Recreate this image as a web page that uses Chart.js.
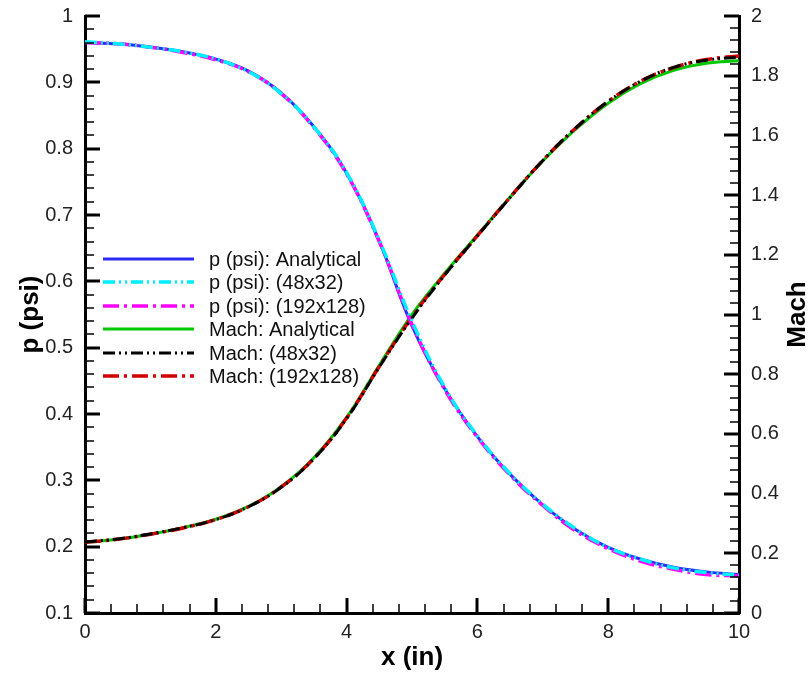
<!DOCTYPE html>
<html>
<head>
<meta charset="utf-8">
<script src="https://cdn.jsdelivr.net/npm/chart.js@4.4.1/dist/chart.umd.min.js"></script>
<style>
  html, body { margin: 0; padding: 0; background: #fff; }
  #wrap { position: relative; width: 812px; height: 673px; }
</style>
</head>
<body>
<div id="wrap"><canvas id="nozzleChart"></canvas></div>
<script>
// stations along the nozzle, x (in)
const xPositions = [0, 0.5, 1, 1.5, 2, 2.5, 3, 3.5, 4, 4.5, 5, 5.5, 6, 6.5, 7, 7.5, 8, 8.5, 9, 9.5, 10];

// static pressure, psi
const pAnalytical = [0.960, 0.958, 0.953, 0.946, 0.935, 0.917, 0.884, 0.833, 0.763, 0.660, 0.533, 0.438, 0.366, 0.309, 0.263, 0.226, 0.199, 0.181, 0.169, 0.162, 0.158];
const pCoarse     = [0.961, 0.958, 0.953, 0.946, 0.935, 0.916, 0.883, 0.833, 0.764, 0.662, 0.540, 0.440, 0.367, 0.310, 0.264, 0.227, 0.199, 0.181, 0.168, 0.161, 0.157];
const pFine       = [0.960, 0.958, 0.953, 0.945, 0.934, 0.916, 0.883, 0.832, 0.762, 0.660, 0.535, 0.437, 0.365, 0.308, 0.262, 0.224, 0.197, 0.178, 0.166, 0.158, 0.156];

// Mach number
const machAnalytical = [0.236, 0.247, 0.264, 0.286, 0.314, 0.357, 0.423, 0.520, 0.655, 0.830, 1.000, 1.138, 1.266, 1.393, 1.514, 1.620, 1.708, 1.774, 1.818, 1.842, 1.850];
const machCoarse     = [0.238, 0.248, 0.265, 0.286, 0.313, 0.356, 0.421, 0.517, 0.651, 0.824, 0.988, 1.132, 1.263, 1.392, 1.516, 1.624, 1.714, 1.782, 1.828, 1.852, 1.862];
const machFine       = [0.237, 0.247, 0.264, 0.285, 0.313, 0.356, 0.422, 0.518, 0.653, 0.826, 0.992, 1.134, 1.264, 1.393, 1.516, 1.624, 1.714, 1.782, 1.827, 1.854, 1.866];

const leftTicks = { min: 0.1, max: 1, step: 0.1, minor: 0.02 };
const rightTicks = { min: 0, max: 2, step: 0.2, minor: 0.04 };
const bottomTicks = { min: 0, max: 10, step: 2, minor: 0.4 };

const toPoints = ys => xPositions.map((x, i) => ({ x: x, y: ys[i] }));
const fmt = v => String(Math.round(v * 100) / 100);

const DASH_DOT_DOT = [12, 4, 2, 4, 2, 4];
const DASH_DOT = [16, 5, 3, 5];

Chart.defaults.font.family = '"Liberation Sans", Arial, sans-serif';

// fixed axis box sizes, no extra room for overhanging labels
const fixWidth = w => s => { s.width = w; s.paddingTop = 0; s.paddingBottom = 0; };
const fixHeight = h => s => { s.height = h; s.paddingLeft = 0; s.paddingRight = 0; };

// inward tick marks, the Mach title and the in-plot legend
const plotExtras = {
  id: 'plotExtras',
  afterDraw(chart) {
    const { ctx, chartArea: area, scales } = chart;
    ctx.save();
    ctx.strokeStyle = '#000';
    ctx.lineCap = 'butt';

    const sets = [
      { scale: scales.x, t: bottomTicks, side: 'bottom' },
      { scale: scales.y, t: leftTicks, side: 'left' },
      { scale: scales.y1, t: rightTicks, side: 'right' }
    ];
    sets.forEach(({ scale, t, side }) => {
      const n = Math.round((t.max - t.min) / t.minor);
      for (let i = 0; i <= n; i++) {
        const v = t.min + i * t.minor;
        const isMajor = Math.abs(v / t.step - Math.round(v / t.step)) < 1e-6;
        const len = isMajor ? 15 : 9;
        const p = Math.round(scale.getPixelForValue(v));
        ctx.lineWidth = isMajor ? 3 : 1.5;
        ctx.beginPath();
        if (side === 'bottom') {
          ctx.moveTo(p, area.bottom);
          ctx.lineTo(p, area.bottom - len);
        } else if (side === 'left') {
          ctx.moveTo(area.left, p);
          ctx.lineTo(area.left + len, p);
        } else {
          ctx.moveTo(area.right, p);
          ctx.lineTo(area.right - len, p);
        }
        ctx.stroke();
      }
    });

    // right axis title reads bottom to top, like the left one
    ctx.save();
    ctx.translate(798, (area.top + area.bottom) / 2);
    ctx.rotate(-Math.PI / 2);
    ctx.fillStyle = '#000';
    ctx.font = 'bold 26px "Liberation Sans", Arial, sans-serif';
    ctx.textAlign = 'center';
    ctx.textBaseline = 'middle';
    ctx.fillText('Mach', 0, 0);
    ctx.restore();

    // legend
    const lx = area.left + 18;
    const rowStep = 23.4;
    ctx.font = '20px "Liberation Sans", Arial, sans-serif';
    ctx.textAlign = 'left';
    ctx.textBaseline = 'middle';
    chart.data.datasets.forEach((ds, i) => {
      const y = Math.round(area.top + 243 + i * rowStep);
      ctx.setLineDash(ds.borderDash || []);
      ctx.strokeStyle = ds.borderColor;
      ctx.lineWidth = ds.borderWidth;
      ctx.beginPath();
      ctx.moveTo(lx, y);
      ctx.lineTo(lx + 91, y);
      ctx.stroke();
      ctx.setLineDash([]);
      ctx.fillStyle = '#111';
      ctx.fillText(ds.label, lx + 106, y + 1);
    });
    ctx.restore();
  }
};

const ctx = document.getElementById('nozzleChart').getContext('2d');

new Chart(ctx, {
  type: 'line',
  data: {
    datasets: [
      { label: 'p (psi): Analytical', data: toPoints(pAnalytical), yAxisID: 'y', borderColor: '#2b2bff', borderWidth: 3, order: 2 },
      { label: 'p (psi): (48x32)', data: toPoints(pCoarse), yAxisID: 'y', borderColor: '#00eeff', borderWidth: 3.5, borderDash: DASH_DOT_DOT, order: 1 },
      { label: 'p (psi): (192x128)', data: toPoints(pFine), yAxisID: 'y', borderColor: '#ff00ff', borderWidth: 3.5, borderDash: DASH_DOT, order: 1 },
      { label: 'Mach: Analytical', data: toPoints(machAnalytical), yAxisID: 'y1', borderColor: '#00c800', borderWidth: 3, order: 2 },
      { label: 'Mach: (48x32)', data: toPoints(machCoarse), yAxisID: 'y1', borderColor: '#000000', borderWidth: 3, borderDash: DASH_DOT_DOT, order: 1 },
      { label: 'Mach: (192x128)', data: toPoints(machFine), yAxisID: 'y1', borderColor: '#d00000', borderWidth: 3.5, borderDash: DASH_DOT, order: 1 }
    ]
  },
  options: {
    responsive: true,
    maintainAspectRatio: false,
    animation: false,
    layout: { padding: { left: 0, right: 0, top: 16, bottom: 0 } },
    elements: {
      point: { radius: 0 },
      line: { tension: 0.4, fill: false }
    },
    scales: {
      x: {
        type: 'linear',
        min: bottomTicks.min,
        max: bottomTicks.max,
        afterFit: fixHeight(60),
        border: { display: true, width: 3, color: '#000' },
        grid: { drawOnChartArea: false, drawTicks: false },
        ticks: { stepSize: bottomTicks.step, padding: 7, color: '#222', font: { size: 20 }, callback: fmt },
        title: { display: true, text: 'x (in)', color: '#000', font: { size: 26, weight: 'bold' }, padding: { top: 0, bottom: 0 } }
      },
      y: {
        position: 'left',
        min: leftTicks.min,
        max: leftTicks.max,
        afterFit: fixWidth(85),
        border: { display: true, width: 3, color: '#000' },
        grid: { drawOnChartArea: false, drawTicks: false },
        ticks: { stepSize: leftTicks.step, padding: 12, color: '#222', font: { size: 20 }, callback: fmt },
        title: { display: true, text: 'p (psi)', color: '#000', font: { size: 26, weight: 'bold' }, padding: { top: 15, bottom: 0 } }
      },
      y1: {
        position: 'right',
        min: rightTicks.min,
        max: rightTicks.max,
        afterFit: fixWidth(73),
        border: { display: true, width: 3, color: '#000' },
        grid: { drawOnChartArea: false, drawTicks: false },
        ticks: { stepSize: rightTicks.step, padding: 12, color: '#222', font: { size: 20 }, callback: fmt }
      }
    },
    plugins: {
      legend: { display: false },
      tooltip: { enabled: false }
    }
  },
  plugins: [plotExtras]
});
</script>
</body>
</html>
